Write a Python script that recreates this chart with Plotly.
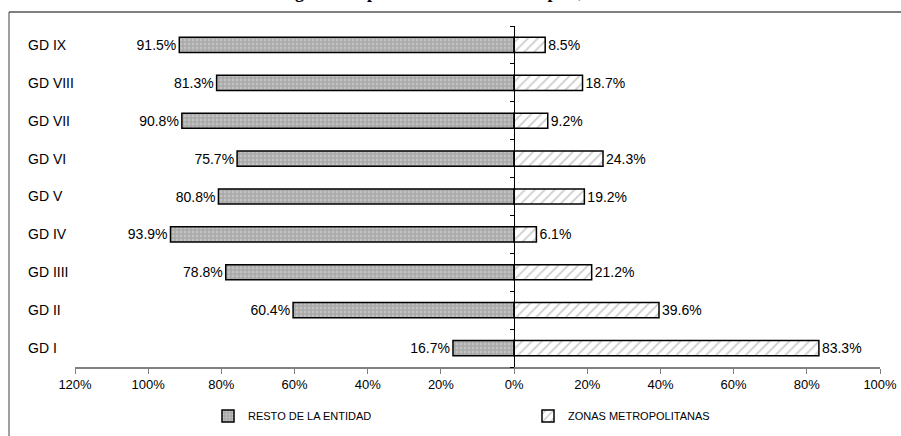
import plotly.graph_objects as go

categories = ["GD I", "GD II", "GD IIII", "GD IV", "GD V", "GD VI", "GD VII", "GD VIII", "GD IX"]
resto = [16.7, 60.4, 78.8, 93.9, 80.8, 75.7, 90.8, 81.3, 91.5]
zonas = [83.3, 39.6, 21.2, 6.1, 19.2, 24.3, 9.2, 18.7, 8.5]
series_names = ["RESTO DE LA ENTIDAD", "ZONAS METROPOLITANAS"]
tick_vals = [-120, -100, -80, -60, -40, -20, 0, 20, 40, 60, 80, 100]
tick_text = ["120%", "100%", "80%", "60%", "40%", "20%", "0%", "20%", "40%", "60%", "80%", "100%"]
title_text = "Distribución del grado de población en los municipios, 2000"

W, H = 901, 436
ML, MR, MT, MB = 24, 21, 26, 69
PW = W - ML - MR
PH = H - MT - MB
plot_left_px = 75
dom0 = (plot_left_px - ML) / PW
xmin, xmax = -120, 100
zero_pos = dom0 + (0 - xmin) / (xmax - xmin) * (1 - dom0)

def px_x(px):
    return (px - ML) / PW

def px_y(py):
    return (H - MB - py) / PH

font_main = "Liberation Sans, Arial, sans-serif"

fig = go.Figure()
fig.add_trace(go.Bar(
    y=categories, x=[-v for v in resto], orientation="h", name=series_names[0],
    width=0.4, yaxis="y",
    text=[f"{v:.1f}%" for v in resto], textposition="outside", constraintext="none",
    textfont=dict(family=font_main, size=14, color="black"),
    cliponaxis=False,
    marker=dict(color="#b0b0b0", line=dict(color="black", width=1.5),
                pattern=dict(shape=".", bgcolor="#a8a8a8", fgcolor="#dcdcdc",
                             size=4, solidity=0.4)),
))
fig.add_trace(go.Bar(
    y=categories, x=zonas, orientation="h", name=series_names[1],
    width=0.4, yaxis="y2",
    text=[f"{v:.1f}%" for v in zonas], textposition="outside", constraintext="none",
    textfont=dict(family=font_main, size=14, color="black"),
    cliponaxis=False,
    marker=dict(color="white", line=dict(color="black", width=1.5),
                pattern=dict(shape="/", bgcolor="white", fgcolor="#9a9a9a",
                             size=7, solidity=0.25)),
))

fig.update_layout(
    width=W, height=H,
    margin=dict(l=ML, r=MR, t=MT, b=MB, autoexpand=False),
    plot_bgcolor="white", paper_bgcolor="white",
    barmode="overlay",
    font=dict(family=font_main, color="black"),
    xaxis=dict(range=[xmin, xmax], domain=[dom0, 1], tickvals=tick_vals, ticktext=tick_text,
               showgrid=False, zeroline=False, showline=True, linecolor="#808080", linewidth=1.5,
               ticks="outside", ticklen=5, tickcolor="#808080", automargin=False,
               tickfont=dict(family=font_main, size=13, color="black")),
    yaxis=dict(type="category", categoryorder="array", categoryarray=categories,
               range=[-0.5, 8.5], anchor="free", position=0, automargin=False,
               ticklabelposition="inside", showline=False, ticks="", showgrid=False,
               tickfont=dict(family=font_main, size=14, color="black")),
    yaxis2=dict(type="category", categoryorder="array", categoryarray=categories,
                range=[-0.5, 8.5], overlaying="y", anchor="free", position=zero_pos,
                showline=True, linecolor="black", linewidth=1, ticks="outside",
                tickson="boundaries", ticklen=4, tickcolor="black", automargin=False,
                showticklabels=False, showgrid=False),
    showlegend=True,
    legend=dict(orientation="h", x=px_x(208), y=px_y(416), xanchor="left", yanchor="middle",
                entrywidth=275, entrywidthmode="pixels",
                font=dict(family=font_main, size=11, color="black"),
                bgcolor="rgba(0,0,0,0)", itemwidth=30),
)

fig.add_annotation(text="<b>" + title_text + "</b>", xref="paper", yref="paper",
                   x=px_x(165), y=px_y(4), xanchor="left", yanchor="bottom",
                   showarrow=False,
                   font=dict(family="Liberation Serif, Times New Roman, serif", size=18, color="black"))

fig.add_shape(type="line", xref="paper", yref="paper", x0=px_x(9), x1=px_x(905),
              y0=px_y(12), y1=px_y(12), line=dict(color="#808080", width=2))
fig.add_shape(type="line", xref="paper", yref="paper", x0=px_x(9), x1=px_x(9),
              y0=px_y(12), y1=px_y(440), line=dict(color="#404040", width=1))

fig.write_html("out.html", config={"displayModeBar": False},
               post_script="document.body.style.margin='0';document.body.style.overflow='hidden';")
